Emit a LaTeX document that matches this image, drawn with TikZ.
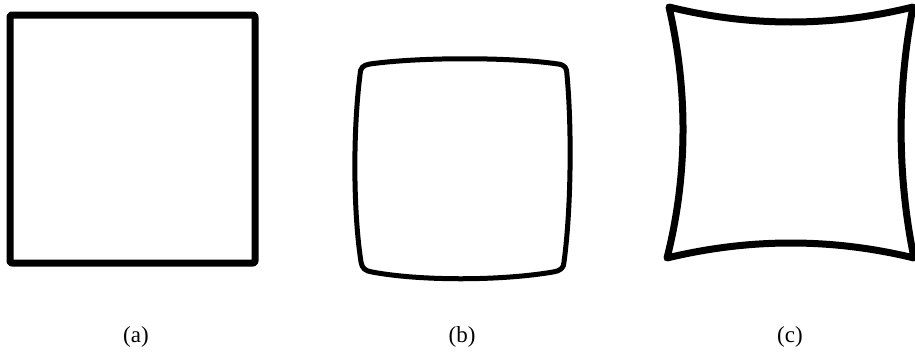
\documentclass[tikz,border=0pt]{standalone}
\usepackage{fontspec}
\setmainfont{Liberation Serif}
\usepackage{tikz}

\begin{document}
\begin{tikzpicture}[x=1pt, y=-1pt,
  outline/.style={draw=black, line join=round, line cap=round},
  caption/.style={font=\fontsize{23}{27}\selectfont, inner sep=0pt}
]
\useasboundingbox (0,0) rectangle (915,351);

% (a) square
\draw[outline, line width=7pt, rounded corners=2pt] (10,15) rectangle (255,263);

% (b) barrel
\draw[outline, line width=5pt] (370,64)
  .. controls (420,57) and (510,57) .. (558,64)
  .. controls (565,65) and (567,68) .. (567,75)
  .. controls (572,130) and (571,210) .. (564,262)
  .. controls (564,268) and (560,271) .. (553,272)
  .. controls (500,281) and (420,281) .. (372,272)
  .. controls (365,271) and (362,268) .. (361,262)
  .. controls (353,210) and (353,130) .. (360,75)
  .. controls (360,68) and (363,65) .. (370,64) -- cycle;

% (c) pincushion
\draw[outline, line width=7pt] (669,7)
  .. controls (750,27) and (832,27) .. (913,7)
  .. controls (897,90) and (897,175) .. (914,258)
  .. controls (832,238) and (750,238) .. (667,258)
  .. controls (688,175) and (688,90) .. (669,7) -- cycle;

\node[caption] (capa) at (136,337) {(a)};
\node[caption] (capb) at (462,337) {(b)};
\node[caption] (capc) at (790,337) {(c)};

\end{tikzpicture}
\end{document}
